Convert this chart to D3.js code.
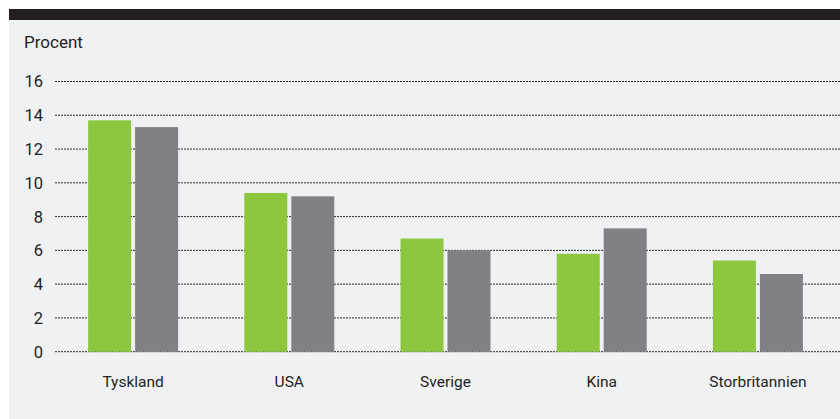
<!DOCTYPE html>
<html>
<head>
<meta charset="utf-8">
<script src="https://cdn.jsdelivr.net/npm/d3@7"></script>
<style>
  body { margin: 0; background: #fff; }
  svg { display: block; }
</style>
</head>
<body>
<svg id="chart" width="840" height="419"></svg>
<script>
// data
const countries = ["Tyskland", "USA", "Sverige", "Kina", "Storbritannien"];
const series = ["a", "b"];
const valuesA = [13.7, 9.4, 6.7, 5.8, 5.4];
const valuesB = [13.3, 9.2, 6.0, 7.3, 4.6];
const yTicks = [0, 2, 4, 6, 8, 10, 12, 14, 16];
const colors = ["#8dc63f", "#808184"];

const svg = d3.select("#chart");
const width = 840, height = 419;

// panel background + black top band
svg.append("rect").attr("x", 9).attr("y", 9).attr("width", width - 9).attr("height", height - 9).attr("fill", "#f0f1f3");
svg.append("rect").attr("x", 9).attr("y", 9).attr("width", width - 9).attr("height", 11).attr("fill", "#231f20");

const font = "Roboto, 'DejaVu Sans', sans-serif";

svg.append("text")
  .attr("x", 24).attr("y", 48)
  .attr("font-family", font).attr("font-size", 17)
  .attr("fill", "#231f20")
  .text("Procent");

const y = d3.scaleLinear().domain([0, 16]).range([351.7, 81.5]);

const x = d3.scaleBand()
  .domain(countries)
  .range([55, 836])
  .paddingInner(0.424)
  .paddingOuter(0.212);

const xInner = d3.scaleBand()
  .domain(series)
  .range([0, x.bandwidth()])
  .paddingInner(0.085);

// grid
svg.append("g").selectAll("line")
  .data(yTicks)
  .join("line")
  .attr("x1", 55).attr("x2", width)
  .attr("y1", d => y(d)).attr("y2", d => y(d))
  .attr("stroke", "#2a2a2a")
  .attr("stroke-width", 1)
  .attr("stroke-dasharray", "2,1");

// y labels
svg.append("g").selectAll("text")
  .data(yTicks)
  .join("text")
  .attr("x", 43)
  .attr("y", d => y(d))
  .attr("dy", "0.36em")
  .attr("text-anchor", "end")
  .attr("font-family", font).attr("font-size", 16.5)
  .attr("fill", "#231f20")
  .text(d => d);

// bars
const rows = countries.map((c, i) => ({ country: c, vals: [valuesA[i], valuesB[i]] }));

const groups = svg.append("g").selectAll("g")
  .data(rows)
  .join("g")
  .attr("transform", d => `translate(${x(d.country)},0)`);

groups.selectAll("rect")
  .data(d => d.vals.map((v, j) => ({ key: series[j], value: v, color: colors[j] })))
  .join("rect")
  .attr("x", d => xInner(d.key))
  .attr("width", xInner.bandwidth())
  .attr("y", d => y(d.value))
  .attr("height", d => y(0) - y(d.value))
  .attr("fill", d => d.color);

// category labels
svg.append("g").selectAll("text")
  .data(countries)
  .join("text")
  .attr("x", d => x(d) + x.bandwidth() / 2)
  .attr("y", 387)
  .attr("text-anchor", "middle")
  .attr("font-family", font).attr("font-size", 15.5)
  .attr("fill", "#231f20")
  .text(d => d);
</script>
</body>
</html>
